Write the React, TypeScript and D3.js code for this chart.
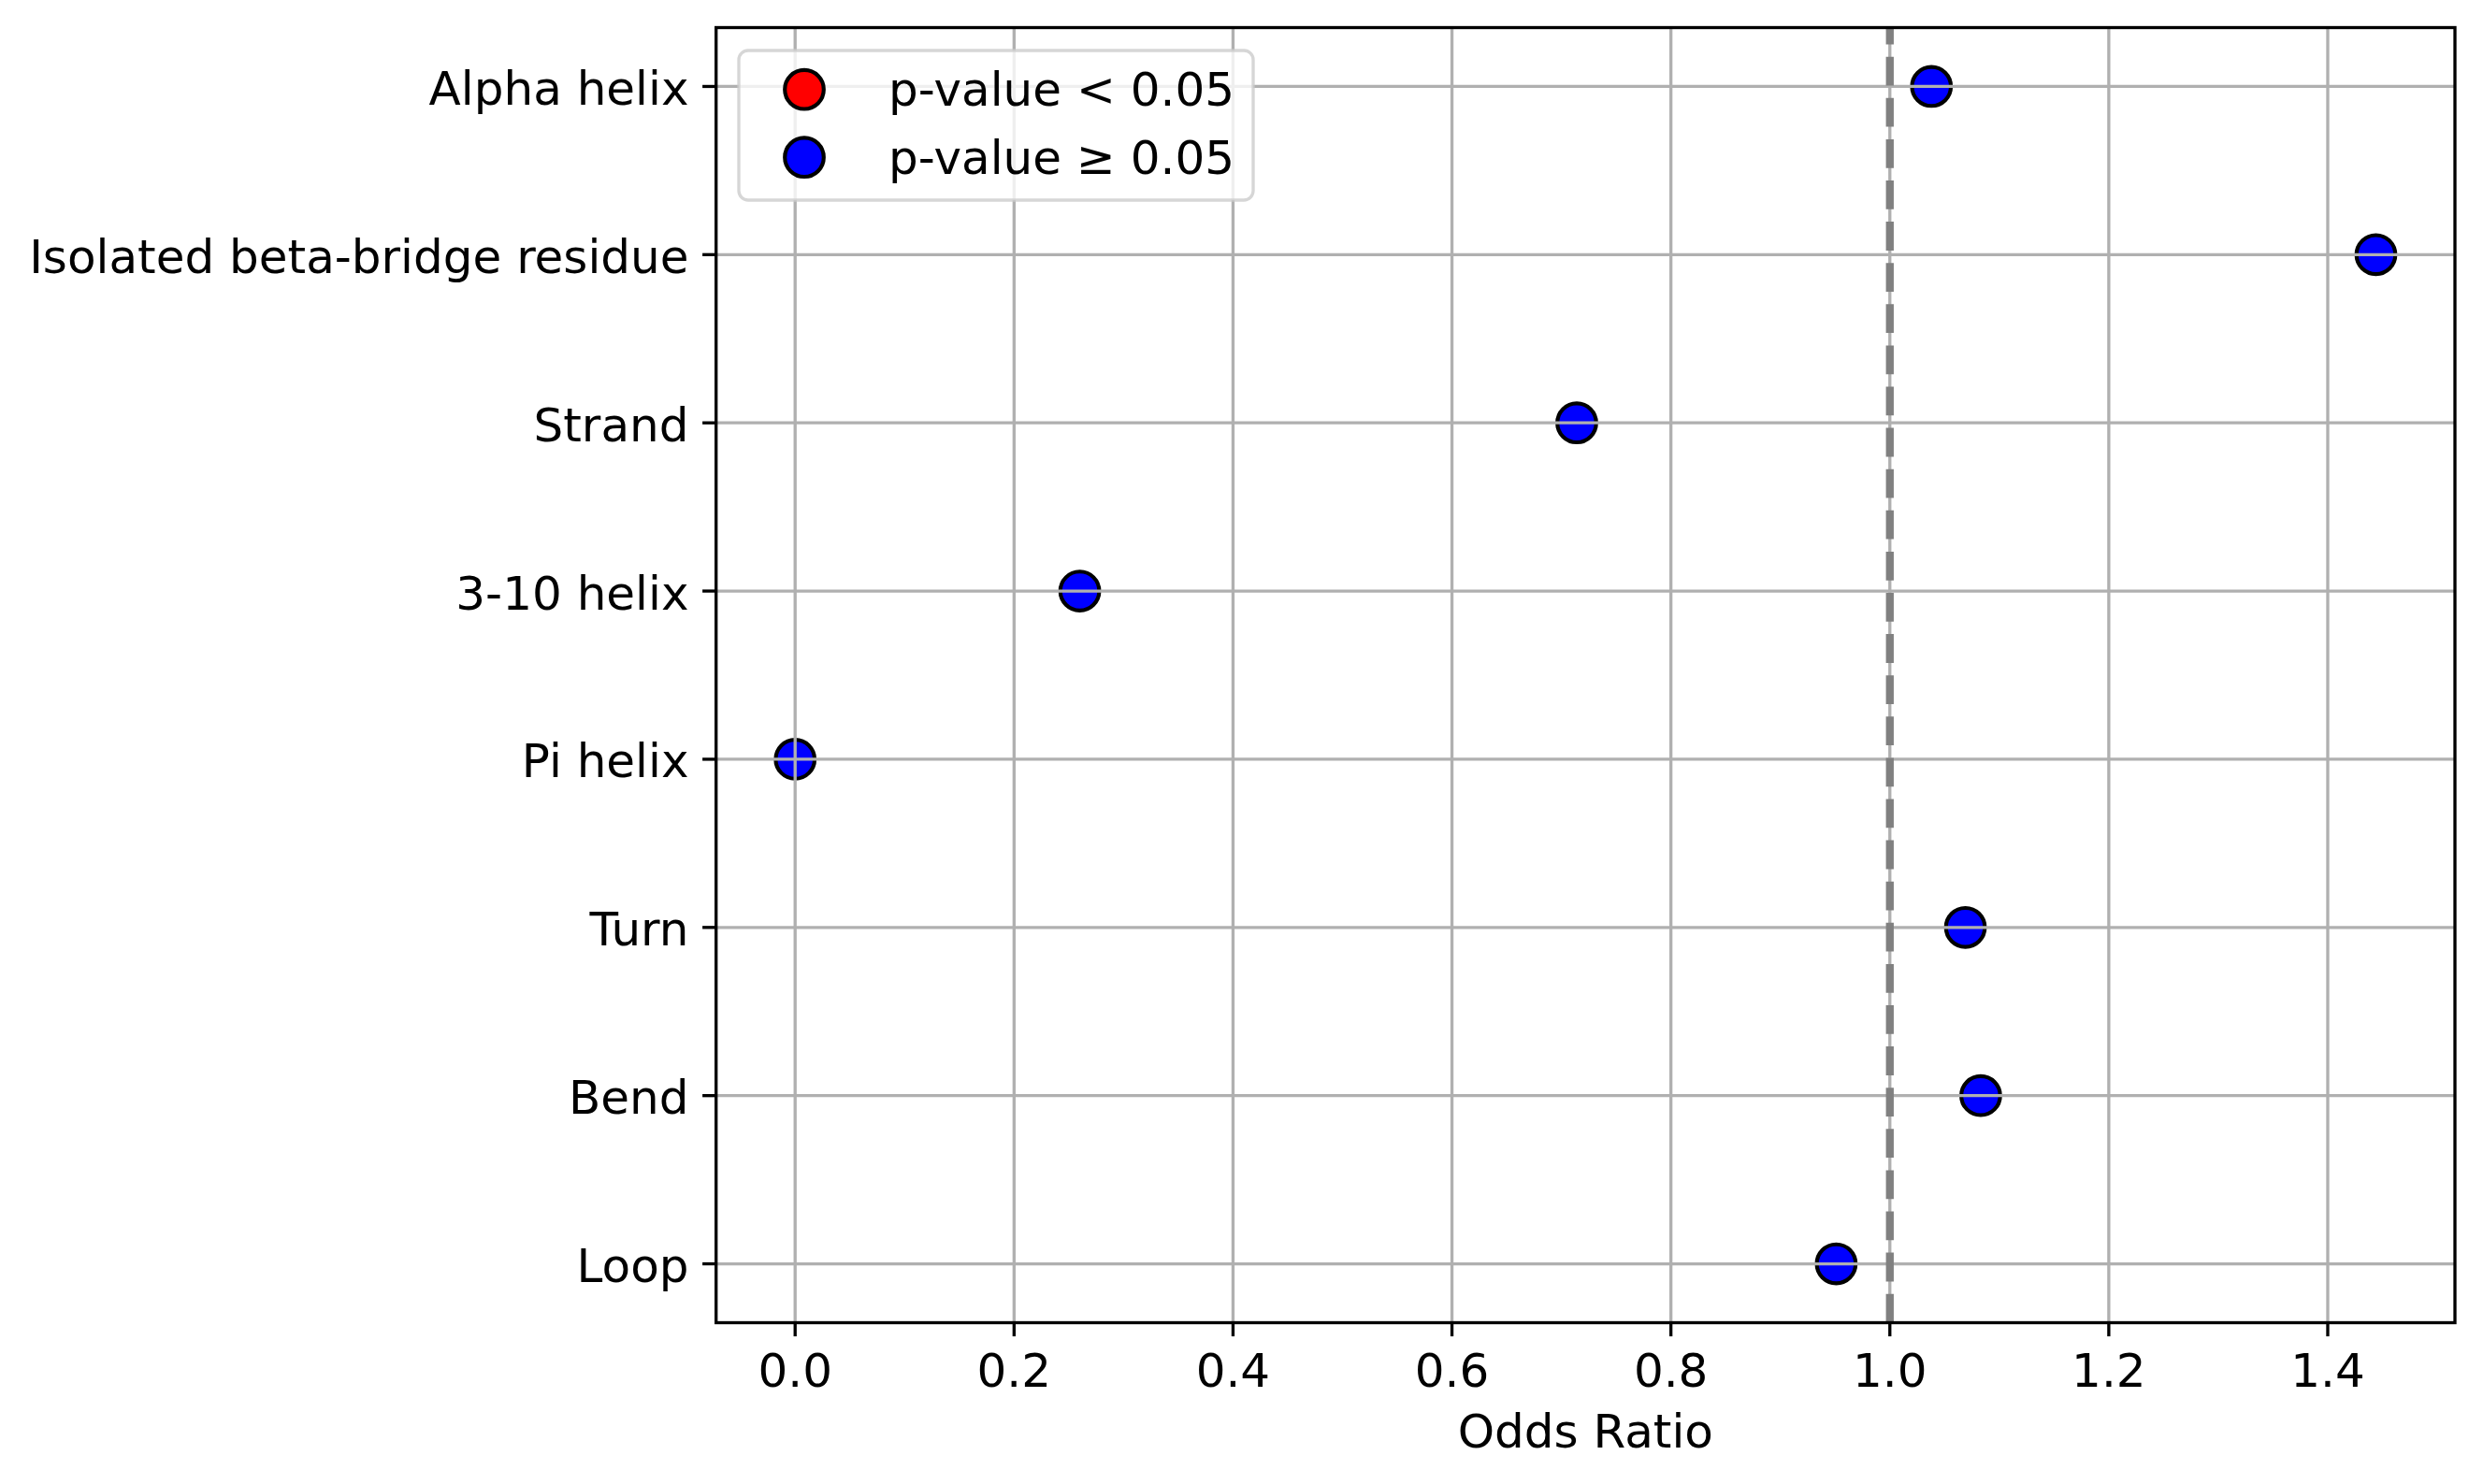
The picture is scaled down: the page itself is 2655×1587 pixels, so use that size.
import * as d3 from "d3"

// secondary structure classes, top to bottom
const categories = [
  "Alpha helix",
  "Isolated beta-bridge residue",
  "Strand",
  "3-10 helix",
  "Pi helix",
  "Turn",
  "Bend",
  "Loop",
]
const oddsRatios = [1.038, 1.444, 0.714, 0.26, 0.0, 1.069, 1.083, 0.951]
const significant = [false, false, false, false, false, false, false, false]
const xTicks = [0.0, 0.2, 0.4, 0.6, 0.8, 1.0, 1.2, 1.4]
const legendItems = [
  { label: "p-value < 0.05", color: "#ff0000" },
  { label: "p-value \u2265 0.05", color: "#0000ff" },
]

const width = 2655
const height = 1587
const left = 765.7
const right = 2625
const top = 29.5
const bottom = 1414.5
const font = "'DejaVu Sans', sans-serif"
const fs = 50
const lw = 3.33
const tickLen = 14.6

export default function App() {
  const xMax = d3.max(oddsRatios) || 1
  const pad = xMax * 0.05
  const x = d3.scaleLinear().domain([-pad, xMax + pad]).range([left, right])
  const n = categories.length
  const y = d3
    .scaleLinear()
    .domain([-(n - 1) * 0.05, (n - 1) * 1.05])
    .range([top, bottom])

  const r = 20.8

  return (
    <svg
      width={width}
      height={height}
      style={{ position: "absolute", left: 0, top: 0, background: "white" }}
      fontFamily={font}
    >
      <rect x={0} y={0} width={width} height={height} fill="white" />

      {/* points */}
      {categories.map((c, i) => (
        <circle
          key={c}
          cx={x(oddsRatios[i])}
          cy={y(i)}
          r={r}
          fill={significant[i] ? "#ff0000" : "#0000ff"}
          stroke="black"
          strokeWidth={4.17}
        />
      ))}

      {/* grid */}
      {xTicks.map((t) => (
        <line key={"gx" + t} x1={x(t)} x2={x(t)} y1={top} y2={bottom} stroke="#b0b0b0" strokeWidth={lw} />
      ))}
      {categories.map((c, i) => (
        <line key={"gy" + c} x1={left} x2={right} y1={y(i)} y2={y(i)} stroke="#b0b0b0" strokeWidth={lw} />
      ))}

      {/* reference line at OR = 1 */}
      <line
        x1={x(1)}
        x2={x(1)}
        y1={bottom}
        y2={top}
        stroke="#808080"
        strokeWidth={8.33}
        strokeDasharray="30.8,13.3"
      />

      {/* spines */}
      <rect x={left} y={top} width={right - left} height={bottom - top} fill="none" stroke="black" strokeWidth={lw} />

      {/* x axis */}
      {xTicks.map((t) => (
        <g key={"tx" + t}>
          <line x1={x(t)} x2={x(t)} y1={bottom} y2={bottom + tickLen} stroke="black" strokeWidth={lw} />
          <text x={x(t)} y={1483} textAnchor="middle" fontSize={fs} fill="black">
            {t.toFixed(1)}
          </text>
        </g>
      ))}
      <text x={(left + right) / 2} y={1548} textAnchor="middle" fontSize={fs} fill="black">
        Odds Ratio
      </text>

      {/* y axis */}
      {categories.map((c, i) => (
        <g key={"ty" + c}>
          <line x1={left - tickLen} x2={left} y1={y(i)} y2={y(i)} stroke="black" strokeWidth={lw} />
          <text x={left - tickLen - 14.6} y={y(i) + 19.5} textAnchor="end" fontSize={fs} fill="black">
            {c}
          </text>
        </g>
      ))}

      {/* legend */}
      <rect
        x={790}
        y={54}
        width={550}
        height={160}
        rx={10}
        ry={10}
        fill="white"
        fillOpacity={0.8}
        stroke="#cccccc"
        strokeOpacity={0.8}
        strokeWidth={lw}
      />
      {legendItems.map((d, i) => (
        <g key={d.label}>
          <circle cx={860} cy={95.7 + i * 72.5} r={r} fill={d.color} stroke="black" strokeWidth={4.17} />
          <text x={950} y={95.7 + i * 72.5 + 17.5} fontSize={fs} fill="black">
            {d.label}
          </text>
        </g>
      ))}
    </svg>
  )
}
